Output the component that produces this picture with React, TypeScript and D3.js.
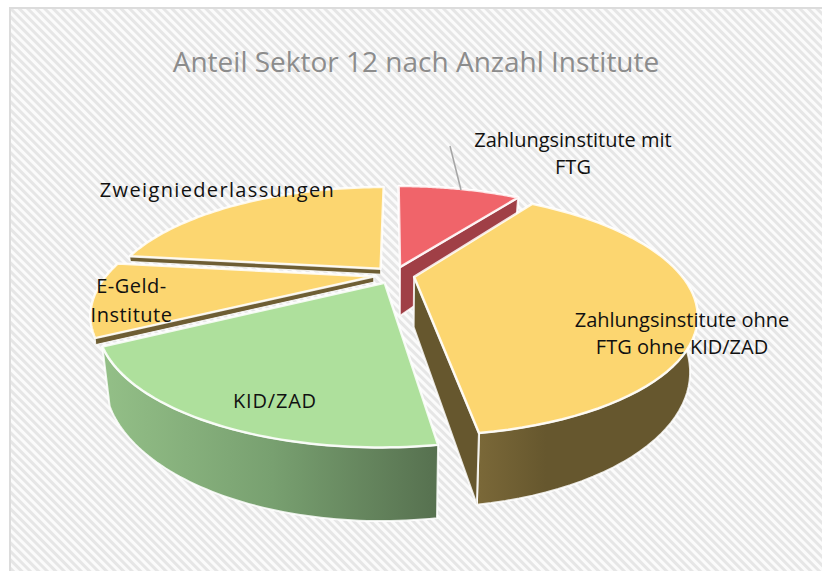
import React from "react";
import * as d3 from "d3";

const categories = ["Zahlungsinstitute mit FTG", "Zahlungsinstitute ohne FTG ohne KID/ZAD", "KID/ZAD", "E-Geld-Institute", "Zweigniederlassungen"];
const values = [9.6, 38.05, 19.44, 9.86, 23.05];
const topColors = ["#f0646a", "#fcd670", "#aee09c", "#fcd670", "#fcd670"];
const wallColors = ["#a03f46", "#66572e", "#66803c", "#6e5e34", "#6e5e34"];

const W = 822;
const H = 571;
// perspective model of the pie, ground plane goes through (cx, cy)
const cx = 394;
const cy = 275;
const R = 267;
const persp = 0.3;
const flat = 109.6;
const depth = 50;
const shrink = 0.975;
const explode = 0.077;
// the cut faces on the left are nearly hidden, only a thin strip of them shows
const stripShare = 0.11;

type Pt = [number, number];

const project = (X: number, Y: number, low: boolean): Pt => {
  const s = 1 / (1 - persp * Y);
  let x = cx + X * R * s;
  let y = cy + Y * flat * s;
  if (low) {
    x = cx + (x - cx) * shrink;
    y += depth * s;
  }
  return [x, y];
};

const pieGen = d3.pie<number>().sort(null).value((d) => d);
const arcs = pieGen(values);
const line = d3.line<Pt>();
const toward = (a: Pt, b: Pt, t: number) => d3.interpolateArray(a, b)(t) as Pt;

function slicePoints(a: d3.PieArcDatum<number>) {
  const mid = (a.startAngle + a.endAngle) / 2;
  const ox = explode * Math.sin(mid);
  const oy = -explode * Math.cos(mid);
  const angles = d3.range(0, 61).map((i) => a.startAngle + ((a.endAngle - a.startAngle) * i) / 60);
  const rim = (low: boolean) => angles.map((t) => project(ox + Math.sin(t), oy - Math.cos(t), low));
  return {
    apexTop: project(ox, oy, false),
    apexLow: project(ox, oy, true),
    rimTop: rim(false),
    rimLow: rim(true),
    // a cut face only shows on the side of the pie it turns towards the viewer
    showStart: a.startAngle > Math.PI,
    showEnd: a.endAngle < Math.PI,
    showOuter: a.startAngle < Math.PI,
  };
}

const slices = arcs.map((a, i) => ({ i, ...slicePoints(a) }));
// back slices first, the front ones paint over them
const paintOrder = [4, 0, 3, 2, 1];

const Label = ({ x, y, lines, size = 20, spacing = 0, lead = 27 }: { x: number; y: number; lines: string[]; size?: number; spacing?: number; lead?: number }) => (
  <text x={x} y={y} textAnchor="middle" fontSize={size} letterSpacing={spacing} fill="#111" fontFamily="'Open Sans', 'Noto Sans', sans-serif">
    {lines.map((l, k) => (
      <tspan key={k} x={x} dy={k === 0 ? 0 : lead}>
        {l}
      </tspan>
    ))}
  </text>
);

export default function App() {
  return (
    <svg width={W} height={H} style={{ position: "absolute", left: 0, top: 0 }}>
      <defs>
        <pattern id="hatch" width="6" height="6" patternUnits="userSpaceOnUse" patternTransform="rotate(-45)">
          <rect width="6" height="6" fill="#fbfbfb" />
          <rect width="3" height="6" fill="#e6e6e6" />
        </pattern>
        <linearGradient id="wallGreen" gradientUnits="userSpaceOnUse" x1="105" x2="440" y1="0" y2="0">
          <stop offset="0" stopColor="#93bf87" />
          <stop offset="0.5" stopColor="#78a070" />
          <stop offset="1" stopColor="#56704f" />
        </linearGradient>
        <linearGradient id="wallBrown" gradientUnits="userSpaceOnUse" x1="480" x2="700" y1="0" y2="0">
          <stop offset="0" stopColor="#7a6838" />
          <stop offset="0.3" stopColor="#66572e" />
          <stop offset="1" stopColor="#66572e" />
        </linearGradient>
      </defs>
      <rect x={10} y={8} width={W} height={H} fill="url(#hatch)" stroke="#dcdcdc" strokeWidth={2} />

      <text x={416} y={72} textAnchor="middle" fontSize={28} fill="#8c8c8c" fontFamily="'Open Sans', 'Noto Sans', sans-serif">
        Anteil Sektor 12 nach Anzahl Institute
      </text>

      {paintOrder.map((idx) => {
        const s = slices[idx];
        const last = s.rimTop.length - 1;
        const outer = [...s.rimTop, ...[...s.rimLow].reverse()];
        const startWall: Pt[] = [s.apexTop, s.rimTop[0], toward(s.rimTop[0], s.rimLow[0], stripShare), toward(s.apexTop, s.apexLow, stripShare)];
        const endWall: Pt[] = [s.apexTop, s.rimTop[last], s.rimLow[last], s.apexLow];
        const top: Pt[] = [s.apexTop, ...s.rimTop];
        const outerFill = idx === 2 ? "url(#wallGreen)" : idx === 1 ? "url(#wallBrown)" : wallColors[idx];
        return (
          <g key={categories[idx]} stroke="#fff" strokeOpacity={0.85} strokeLinejoin="round">
            {s.showOuter && <path d={line(outer) + "Z"} fill={outerFill} strokeWidth={2} />}
            {s.showStart && <path d={line(startWall) + "Z"} fill={wallColors[idx]} strokeWidth={1} />}
            {s.showEnd && <path d={line(endWall) + "Z"} fill={wallColors[idx]} strokeWidth={2} />}
            <path d={line(top) + "Z"} fill={topColors[idx]} strokeWidth={2.5} />
          </g>
        );
      })}

      <line x1={450} y1={146} x2={461} y2={190} stroke="#a6a6a6" strokeWidth={1.5} />

      <Label x={573} y={147} lines={["Zahlungsinstitute mit", "FTG"]} />
      <Label x={682} y={327} lines={["Zahlungsinstitute ohne", "FTG ohne KID/ZAD"]} />
      <Label x={275} y={408} lines={["KID/ZAD"]} spacing={0.8} />
      <Label x={131.5} y={293} lines={["E-Geld-", "Institute"]} lead={29} spacing={0.5} />
      <Label x={217.5} y={197} lines={["Zweigniederlassungen"]} spacing={1.35} />
    </svg>
  );
}
